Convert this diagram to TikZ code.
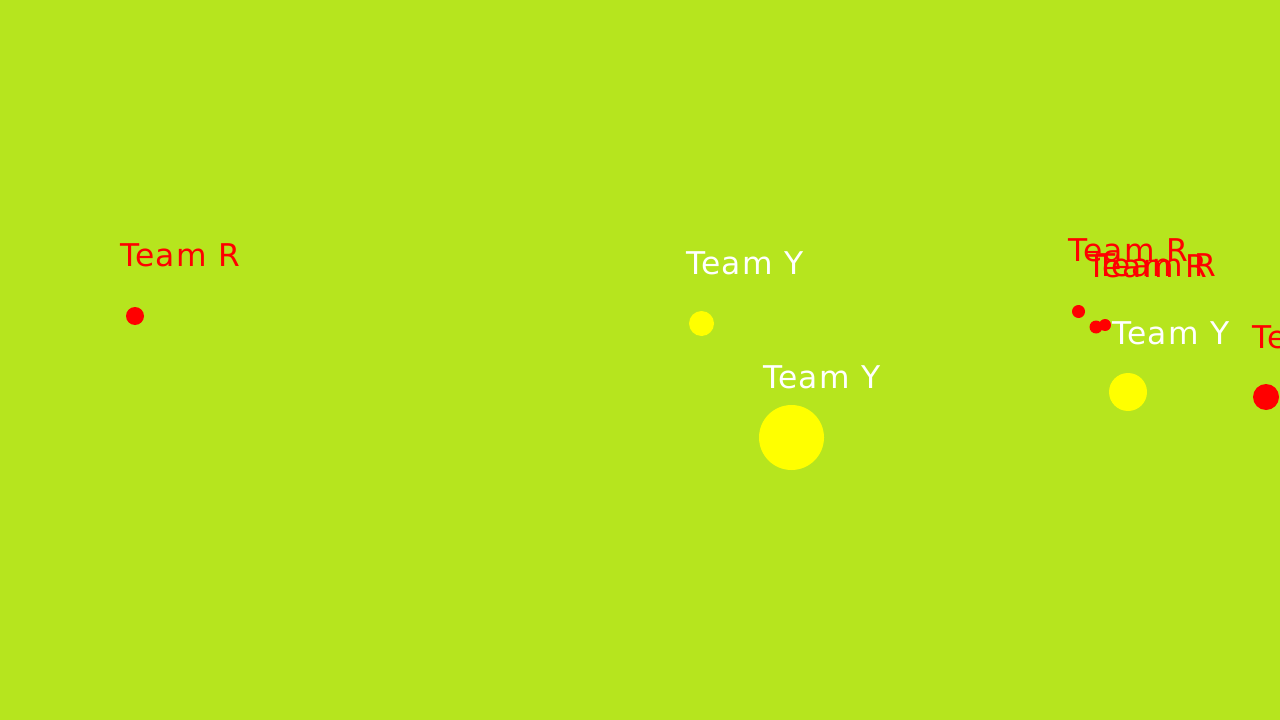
\documentclass[tikz,border=0pt]{standalone}
\usepackage{fontspec}
\setsansfont{DejaVu Sans}
\newfontfamily\tagfont[LetterSpace=4]{DejaVu Sans}
\usetikzlibrary{positioning}
\definecolor{pitch}{RGB}{182,229,30}
\definecolor{teamr}{RGB}{255,0,0}
\definecolor{teamy}{RGB}{255,255,0}

\begin{document}
\begin{tikzpicture}[x=0.75pt, y=-0.75pt, line cap=round, line join=round,
	dot/.style={circle, inner sep=0pt, outer sep=0pt, minimum size=#1*1.5pt},
	tag/.style={anchor=base west, inner sep=0pt, font=\tagfont\fontsize{23.5}{24}\selectfont}]
	% Spielfeld
	\fill[pitch] (0,0) rectangle (1280,720);
	\useasboundingbox (0,0) rectangle (1280,720);
	\clip (0,0) rectangle (1280,720);

	% Spieler: Name/x/y/Radius/Farbe/Textfarbe/Label-x/Label-y/Text
	\foreach \n/\px/\py/\rad/\col/\tcol/\lx/\ly/\txt in {
		rA/135/316/9/teamr/teamr/120/267/Team R,
		yA/701.5/323.5/12.5/teamy/white/686/274/Team Y,
		yB/791.5/437.5/32.5/teamy/white/763/388/Team Y,
		rB/1078.5/311.5/6.5/teamr/teamr/1068/262/Team R,
		rC/1096/327/6.5/teamr/teamr/1087/277/Team R,
		rD/1105/325/6/teamr/teamr/1096/276/Team R,
		yC/1128/392/19/teamy/white/1112/344/Team Y,
		rE/1266/397/13/teamr/teamr/1252/348/Team R} {
		\node[dot=\rad, fill=\col] (\n) at (\px,\py) {};
		\node[tag, text=\tcol] (\n-tag) at (\lx,\ly) {\txt};
	}
\end{tikzpicture}
\end{document}
